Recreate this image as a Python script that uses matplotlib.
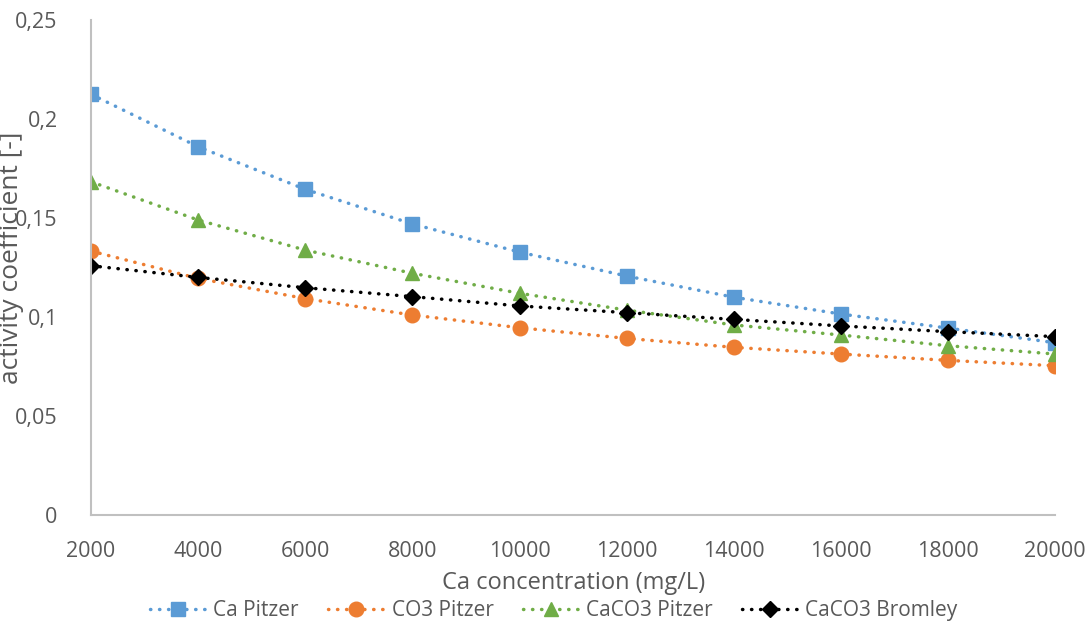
"""
Activity coefficients vs Ca concentration
"""
import matplotlib
matplotlib.use("Agg")
import matplotlib.pyplot as plt
from matplotlib.ticker import FuncFormatter

plt.rcParams['font.family'] = ['Open Sans', 'DejaVu Sans']

# data
ca_conc = [2000, 4000, 6000, 8000, 10000, 12000, 14000, 16000, 18000, 20000]
ca_pitzer = [0.2125, 0.1860, 0.1645, 0.1470, 0.1328, 0.1207, 0.1100, 0.1015, 0.0944, 0.0870]
co3_pitzer = [0.1333, 0.1195, 0.1093, 0.1010, 0.0946, 0.0892, 0.0847, 0.0813, 0.0781, 0.0754]
caco3_pitzer = [0.1683, 0.1490, 0.1338, 0.1221, 0.1120, 0.1035, 0.0960, 0.0909, 0.0855, 0.0813]
caco3_bromley = [0.1259, 0.1200, 0.1148, 0.1103, 0.1056, 0.1022, 0.0988, 0.0955, 0.0926, 0.0901]

series = [
    ("Ca Pitzer", ca_pitzer, "#5B9BD5", "s", 9.5),
    ("CO3 Pitzer", co3_pitzer, "#ED7D31", "o", 10.5),
    ("CaCO3 Pitzer", caco3_pitzer, "#70AD47", "^", 10.5),
    ("CaCO3 Bromley", caco3_bromley, "#000000", "D", 8.5),
]

text_col = "#595959"

fig = plt.figure(figsize=(10.9, 6.26), dpi=100)
ax = fig.add_axes([0.0835, 0.1773, 0.8845, 0.7907])

for name, vals, col, mk, ms in series:
    ax.plot(ca_conc, vals, color=col, linewidth=2.5,
            linestyle=(0, (0.1, 2.5)), dash_capstyle='round',
            marker=mk, markersize=ms, markerfacecolor=col,
            markeredgecolor=col, label=name)

ax.set_xlim(2000, 20000)
ax.set_ylim(0, 0.25)
ax.set_xticks(ca_conc)
ax.set_yticks([0, 0.05, 0.1, 0.15, 0.2, 0.25])
ax.yaxis.set_major_formatter(FuncFormatter(lambda v, p: ("%g" % round(v, 2)).replace(".", ",")))

for s in ["top", "right"]:
    ax.spines[s].set_visible(False)
for s in ["left", "bottom"]:
    ax.spines[s].set_color("#C0C0C0")
    ax.spines[s].set_linewidth(1.5)

ax.tick_params(axis="both", length=0, labelsize=15.5, labelcolor=text_col)
ax.tick_params(axis="x", pad=19)
ax.tick_params(axis="y", pad=24)

ax.set_xlabel("Ca concentration (mg/L)", fontsize=17, color=text_col, labelpad=6)
ax.set_ylabel("activity coefficient [-]", fontsize=19, color=text_col)
ax.yaxis.set_label_coords(-0.07, 0.52)

fig.legend(loc="center", bbox_to_anchor=(0.508, 0.024), ncol=4,
           frameon=False, fontsize=15, handlelength=2.7, columnspacing=1.4,
           handletextpad=0.35, labelcolor=text_col)

fig.savefig("out.png", dpi=100)
